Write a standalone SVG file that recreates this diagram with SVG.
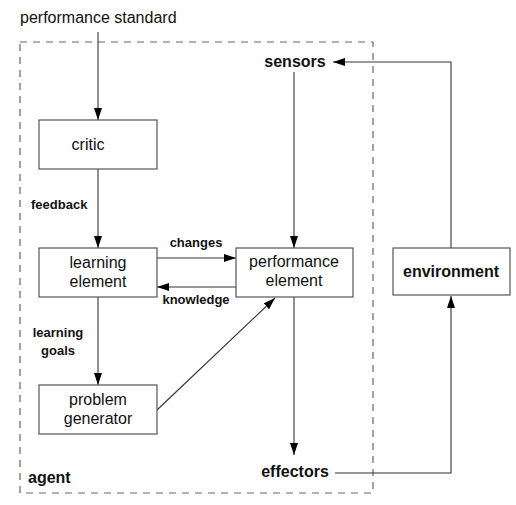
<svg xmlns="http://www.w3.org/2000/svg" width="516" height="505" viewBox="0 0 516 505">
<style>
.box{fill:#fff;stroke:#555;stroke-width:1.2}
.t{font-family:"Liberation Sans",Arial,sans-serif;font-size:16px;fill:#111}
.b{font-family:"Liberation Sans",Arial,sans-serif;font-weight:bold;fill:#111}
.c{fill:none;stroke:#333;stroke-width:1.1}
</style>
<defs>
<marker id="ah" markerUnits="userSpaceOnUse" markerWidth="13" markerHeight="9" refX="12" refY="4" orient="auto">
<path d="M0,0 L12,4 L0,8 Z" fill="#000"/>
</marker>
</defs>
<rect width="516" height="505" fill="#fff"/>
<g id="agent-boundary">
<rect x="20" y="42" width="353" height="451" fill="none" stroke="#666" stroke-width="1.2" stroke-dasharray="7,6"/>
<text class="b" x="28" y="483" font-size="16">agent</text>
</g>
<g id="connectors">
<line class="c" x1="98" y1="32" x2="98" y2="120" marker-end="url(#ah)"/>
<line class="c" x1="98" y1="169" x2="98" y2="248" marker-end="url(#ah)"/>
<line class="c" x1="98" y1="297" x2="98" y2="385" marker-end="url(#ah)"/>
<line class="c" x1="157" y1="258" x2="236" y2="258" marker-end="url(#ah)"/>
<line class="c" x1="236" y1="287" x2="157" y2="287" marker-end="url(#ah)"/>
<line class="c" x1="157" y1="410" x2="275" y2="298" marker-end="url(#ah)"/>
<line class="c" x1="294" y1="72" x2="294" y2="248" marker-end="url(#ah)"/>
<line class="c" x1="294" y1="297" x2="294" y2="455" marker-end="url(#ah)"/>
<polyline class="c" points="451,248 451,62 333,62" marker-end="url(#ah)"/>
<polyline class="c" points="335,473 451,473 451,296" marker-end="url(#ah)"/>
<text class="b" x="31" y="209" font-size="13">feedback</text>
<text class="b" x="196" y="247" font-size="13" text-anchor="middle">changes</text>
<text class="b" x="196" y="304" font-size="13" text-anchor="middle">knowledge</text>
<text class="b" x="58" y="337" font-size="13" text-anchor="middle">learning</text>
<text class="b" x="58" y="355" font-size="13" text-anchor="middle">goals</text>
</g>
<g id="performance-standard">
<text class="t" x="20" y="23">performance standard</text>
</g>
<g id="critic">
<rect class="box" x="39" y="120" width="118" height="49"/>
<text class="t" x="88" y="150" text-anchor="middle">critic</text>
</g>
<g id="learning-element">
<rect class="box" x="39" y="248" width="118" height="49"/>
<text class="t" x="98" y="268" text-anchor="middle">learning</text>
<text class="t" x="98" y="287" text-anchor="middle">element</text>
</g>
<g id="performance-element">
<rect class="box" x="236" y="248" width="117" height="49"/>
<text class="t" x="294" y="267" text-anchor="middle">performance</text>
<text class="t" x="294" y="286" text-anchor="middle">element</text>
</g>
<g id="problem-generator">
<rect class="box" x="39" y="385" width="118" height="49"/>
<text class="t" x="98" y="405" text-anchor="middle">problem</text>
<text class="t" x="98" y="424" text-anchor="middle">generator</text>
</g>
<g id="sensors">
<text class="b" x="295" y="67" font-size="16" text-anchor="middle">sensors</text>
</g>
<g id="effectors">
<text class="b" x="295" y="477" font-size="16" text-anchor="middle">effectors</text>
</g>
<g id="environment">
<rect class="box" x="393" y="248" width="117" height="47"/>
<text class="b" x="451" y="277" font-size="16" text-anchor="middle">environment</text>
</g>
</svg>
